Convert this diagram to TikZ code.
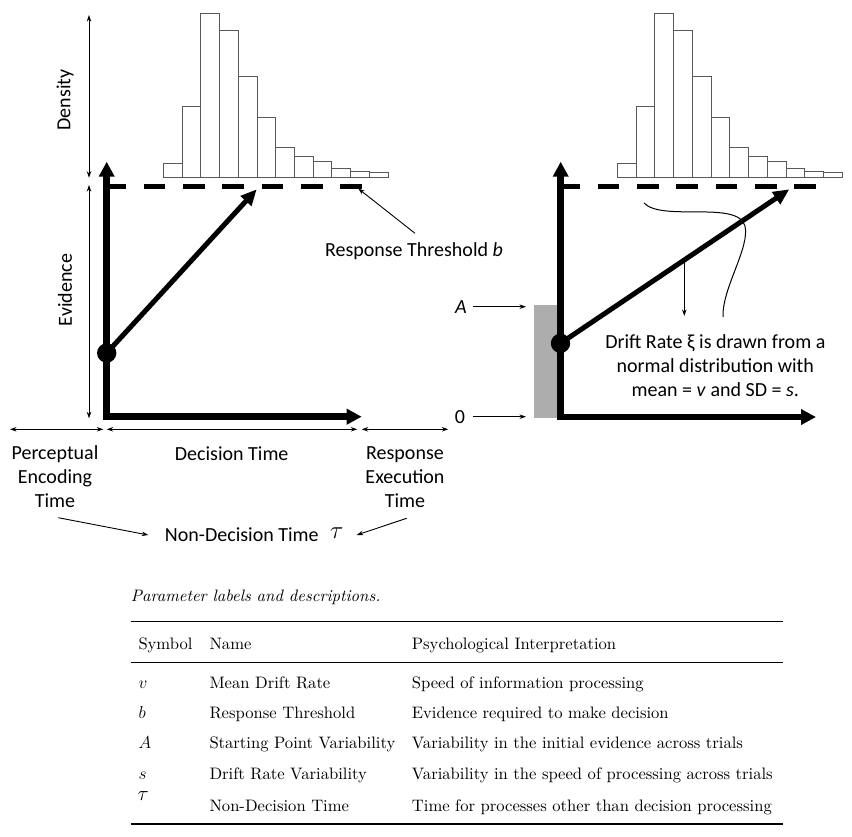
\documentclass[tikz,border=0pt]{standalone}
\usepackage{fontspec}
\usetikzlibrary{arrows.meta}
\newfontfamily\calib{Carlito}
\newfontfamily\lmten{lmroman10-regular.otf}[ItalicFont=lmroman10-italic.otf]
\begin{document}
\begin{tikzpicture}[x=1pt,y=-1pt,
  thinarr/.style={line width=0.9pt,-{Stealth[length=6.5pt,width=4.5pt]}},
  dthin/.style={line width=0.9pt,{Stealth[length=6.5pt,width=4.5pt]}-{Stealth[length=6.5pt,width=4.5pt]}},
  axis/.style={line width=6.5pt,miter limit=10,{Triangle[length=15pt,width=15pt]}-{Triangle[length=15pt,width=15pt]}},
  driftarr/.style={line width=5pt,-{Triangle[length=16pt,width=14pt]}},
  thresh/.style={line width=5pt,dash pattern=on 21.7pt off 17.6pt,dash phase=2.4pt},
  bar/.style={draw=black!65,line width=0.8pt,fill=white},
  dot/.style={circle,fill=black,inner sep=0pt,minimum size=19.4pt},
  lbl/.style={font=\calib\fontsize{20}{24}\selectfont,align=center,inner sep=0pt},
  tbl/.style={font=\lmten\fontsize{16.6}{20}\selectfont,anchor=base west,inner sep=0pt}]
\useasboundingbox (0,0) rectangle (852,836);
\fill[white] (0,0) rectangle (852,836);

% histograms
\foreach \h [count=\i from 0] in {163.7,106.3,13,30.7,76.7,117,147.7,156,161.3,168.3,171.3,172.3} {
  \draw[bar] (163.3+\i*18.72,177.7) rectangle (163.3+\i*18.72+18.72,\h);
  \draw[bar] (617.3+\i*18.75,177.7) rectangle (617.3+\i*18.75+18.75,\h);
}

% ---------- left panel ----------
\coordinate (L0) at (106.7,416.7);
\coordinate (Ltop) at (106.7,161.7);
\coordinate (Lright) at (361.7,416.7);
\coordinate (Lb0) at (106.7,186.8);
\coordinate (Lb1) at (361.7,186.8);
\draw[thresh] (Lb0) -- (Lb1);
\draw[axis] (Ltop) -- (L0) -- (Lright);
\node[dot] (Ls) at (106.7,353) {};
\coordinate (Le) at (256.7,189.3);
\draw[driftarr] (Ls.center) -- (Le);

\coordinate (d1) at (89,15);
\coordinate (d2) at (89,177.7);
\draw[dthin] (d1) -- (d2);
\coordinate (e1) at (89,185);
\coordinate (e2) at (89,418.3);
\draw[dthin] (e1) -- (e2);
\node[lbl,rotate=90] (dens) at (65,100) {Density};
\node[lbl,rotate=90] (evid) at (65,290) {Evidence};

\node[lbl] (rt) at (414,250.7) {Response Threshold \textit{b}};
\coordinate (rtp) at (415,233.3);
\coordinate (rte) at (358.3,188.6);
\draw[thinarr] (rtp) -- (rte);

% time arrows
\coordinate (t0) at (10,429.3);
\coordinate (t1) at (103.3,429.3);
\coordinate (t2) at (106.7,429.3);
\coordinate (t3) at (357.3,429.3);
\coordinate (t4) at (361.7,429.3);
\coordinate (t5) at (448.3,429.3);
\draw[dthin] (t0) -- (t1);
\draw[dthin] (t2) -- (t3);
\draw[dthin] (t4) -- (t5);
\node[lbl] (pet) at (55,477) {Perceptual\\Encoding\\Time};
\node[lbl] (dt) at (231.7,453.3) {Decision Time};
\node[lbl] (ret) at (405,477) {Response\\Execution\\Time};
\node[lbl] (nd) at (241.8,534.3) {Non-Decision Time};
\node[inner sep=0pt,font=\fontsize{26}{30}\selectfont] (tau) at (336.7,533) {$\tau$};
\coordinate (pea) at (58.3,517.7);
\coordinate (ndl) at (148.3,535);
\draw[thinarr] (pea) -- (ndl);
\coordinate (rea) at (406.7,518.3);
\coordinate (ndr) at (356.7,535);
\draw[thinarr] (rea) -- (ndr);

% ---------- right panel ----------
\fill[black!32] (534.3,305) rectangle (557.7,418.3);
\coordinate (R0) at (560.7,417);
\coordinate (Rtop) at (560.7,161.7);
\coordinate (Rright) at (816,417);
\coordinate (Rb0) at (560.7,186.7);
\coordinate (Rb1) at (815.7,186.7);
\draw[thresh] (Rb0) -- (Rb1);
\draw[axis] (Rtop) -- (R0) -- (Rright);
\node[dot] (Rs) at (560.5,343.3) {};
\coordinate (Re) at (789.3,189.3);
\draw[driftarr] (Rs.center) -- (Re);

\node[lbl] (Alab) at (461,306.7) {\textit{A}};
\coordinate (Aa0) at (472.7,306.7);
\coordinate (Aa1) at (526,306.7);
\draw[thinarr] (Aa0) -- (Aa1);
\node[lbl] (Zlab) at (460,416.7) {0};
\coordinate (Za0) at (472.7,416.7);
\coordinate (Za1) at (526,416.7);
\draw[thinarr] (Za0) -- (Za1);

\coordinate (sa0) at (684.3,262);
\coordinate (sa1) at (684.3,316);
\draw[thinarr] (sa0) -- (sa1);
\coordinate (cv0) at (644,203);
\coordinate (cv1) at (745,226);
\coordinate (cv2) at (723,317);
\draw[line width=1pt] (cv0) .. controls (662,222) and (738,200) .. (cv1) .. controls (750,248) and (722,288) .. (cv2);

\node[lbl] (drtxt) at (715.3,365.5) {Drift Rate ξ is drawn from a\\normal distribution with\\mean = \textit{v} and SD = \textit{s}.};

% ---------- table ----------
\node[tbl] (cap) at (130.7,601) {\itshape Parameter labels and descriptions.};
\draw[line width=1.3pt] (130.7,621.7) -- (783.3,621.7);
\draw[line width=0.8pt] (130.7,662.3) -- (783.3,662.3);
\draw[line width=1.3pt] (130.7,824) -- (783.3,824);
\node[tbl] (h1) at (138.3,649) {Symbol};
\node[tbl] (h2) at (209.3,649) {Name};
\node[tbl] (h3) at (411.7,649) {Psychological Interpretation};
\node[tbl] (s1) at (138.3,688.3) {$v$};
\node[tbl] (n1) at (209.3,688.3) {Mean Drift Rate};
\node[tbl] (p1) at (411.7,688.3) {Speed of information processing};
\node[tbl] (s2) at (138.3,718.3) {$b$};
\node[tbl] (n2) at (209.3,718.3) {Response Threshold};
\node[tbl] (p2) at (411.7,718.3) {Evidence required to make decision};
\node[tbl] (s3) at (138.3,748.3) {$A$};
\node[tbl] (n3) at (209.3,748.3) {Starting Point Variability};
\node[tbl] (p3) at (411.7,748.3) {Variability in the initial evidence across trials};
\node[tbl] (s4) at (138.3,779) {$s$};
\node[tbl] (n4) at (209.3,779) {Drift Rate Variability};
\node[tbl] (p4) at (411.7,779) {Variability in the speed of processing across trials};
\node[tbl,font=\fontsize{21}{24}\selectfont] (s5) at (137.5,800) {$\tau$};
\node[tbl] (n5) at (209.3,811) {Non-Decision Time};
\node[tbl] (p5) at (411.7,811) {Time for processes other than decision processing};
\end{tikzpicture}
\end{document}
